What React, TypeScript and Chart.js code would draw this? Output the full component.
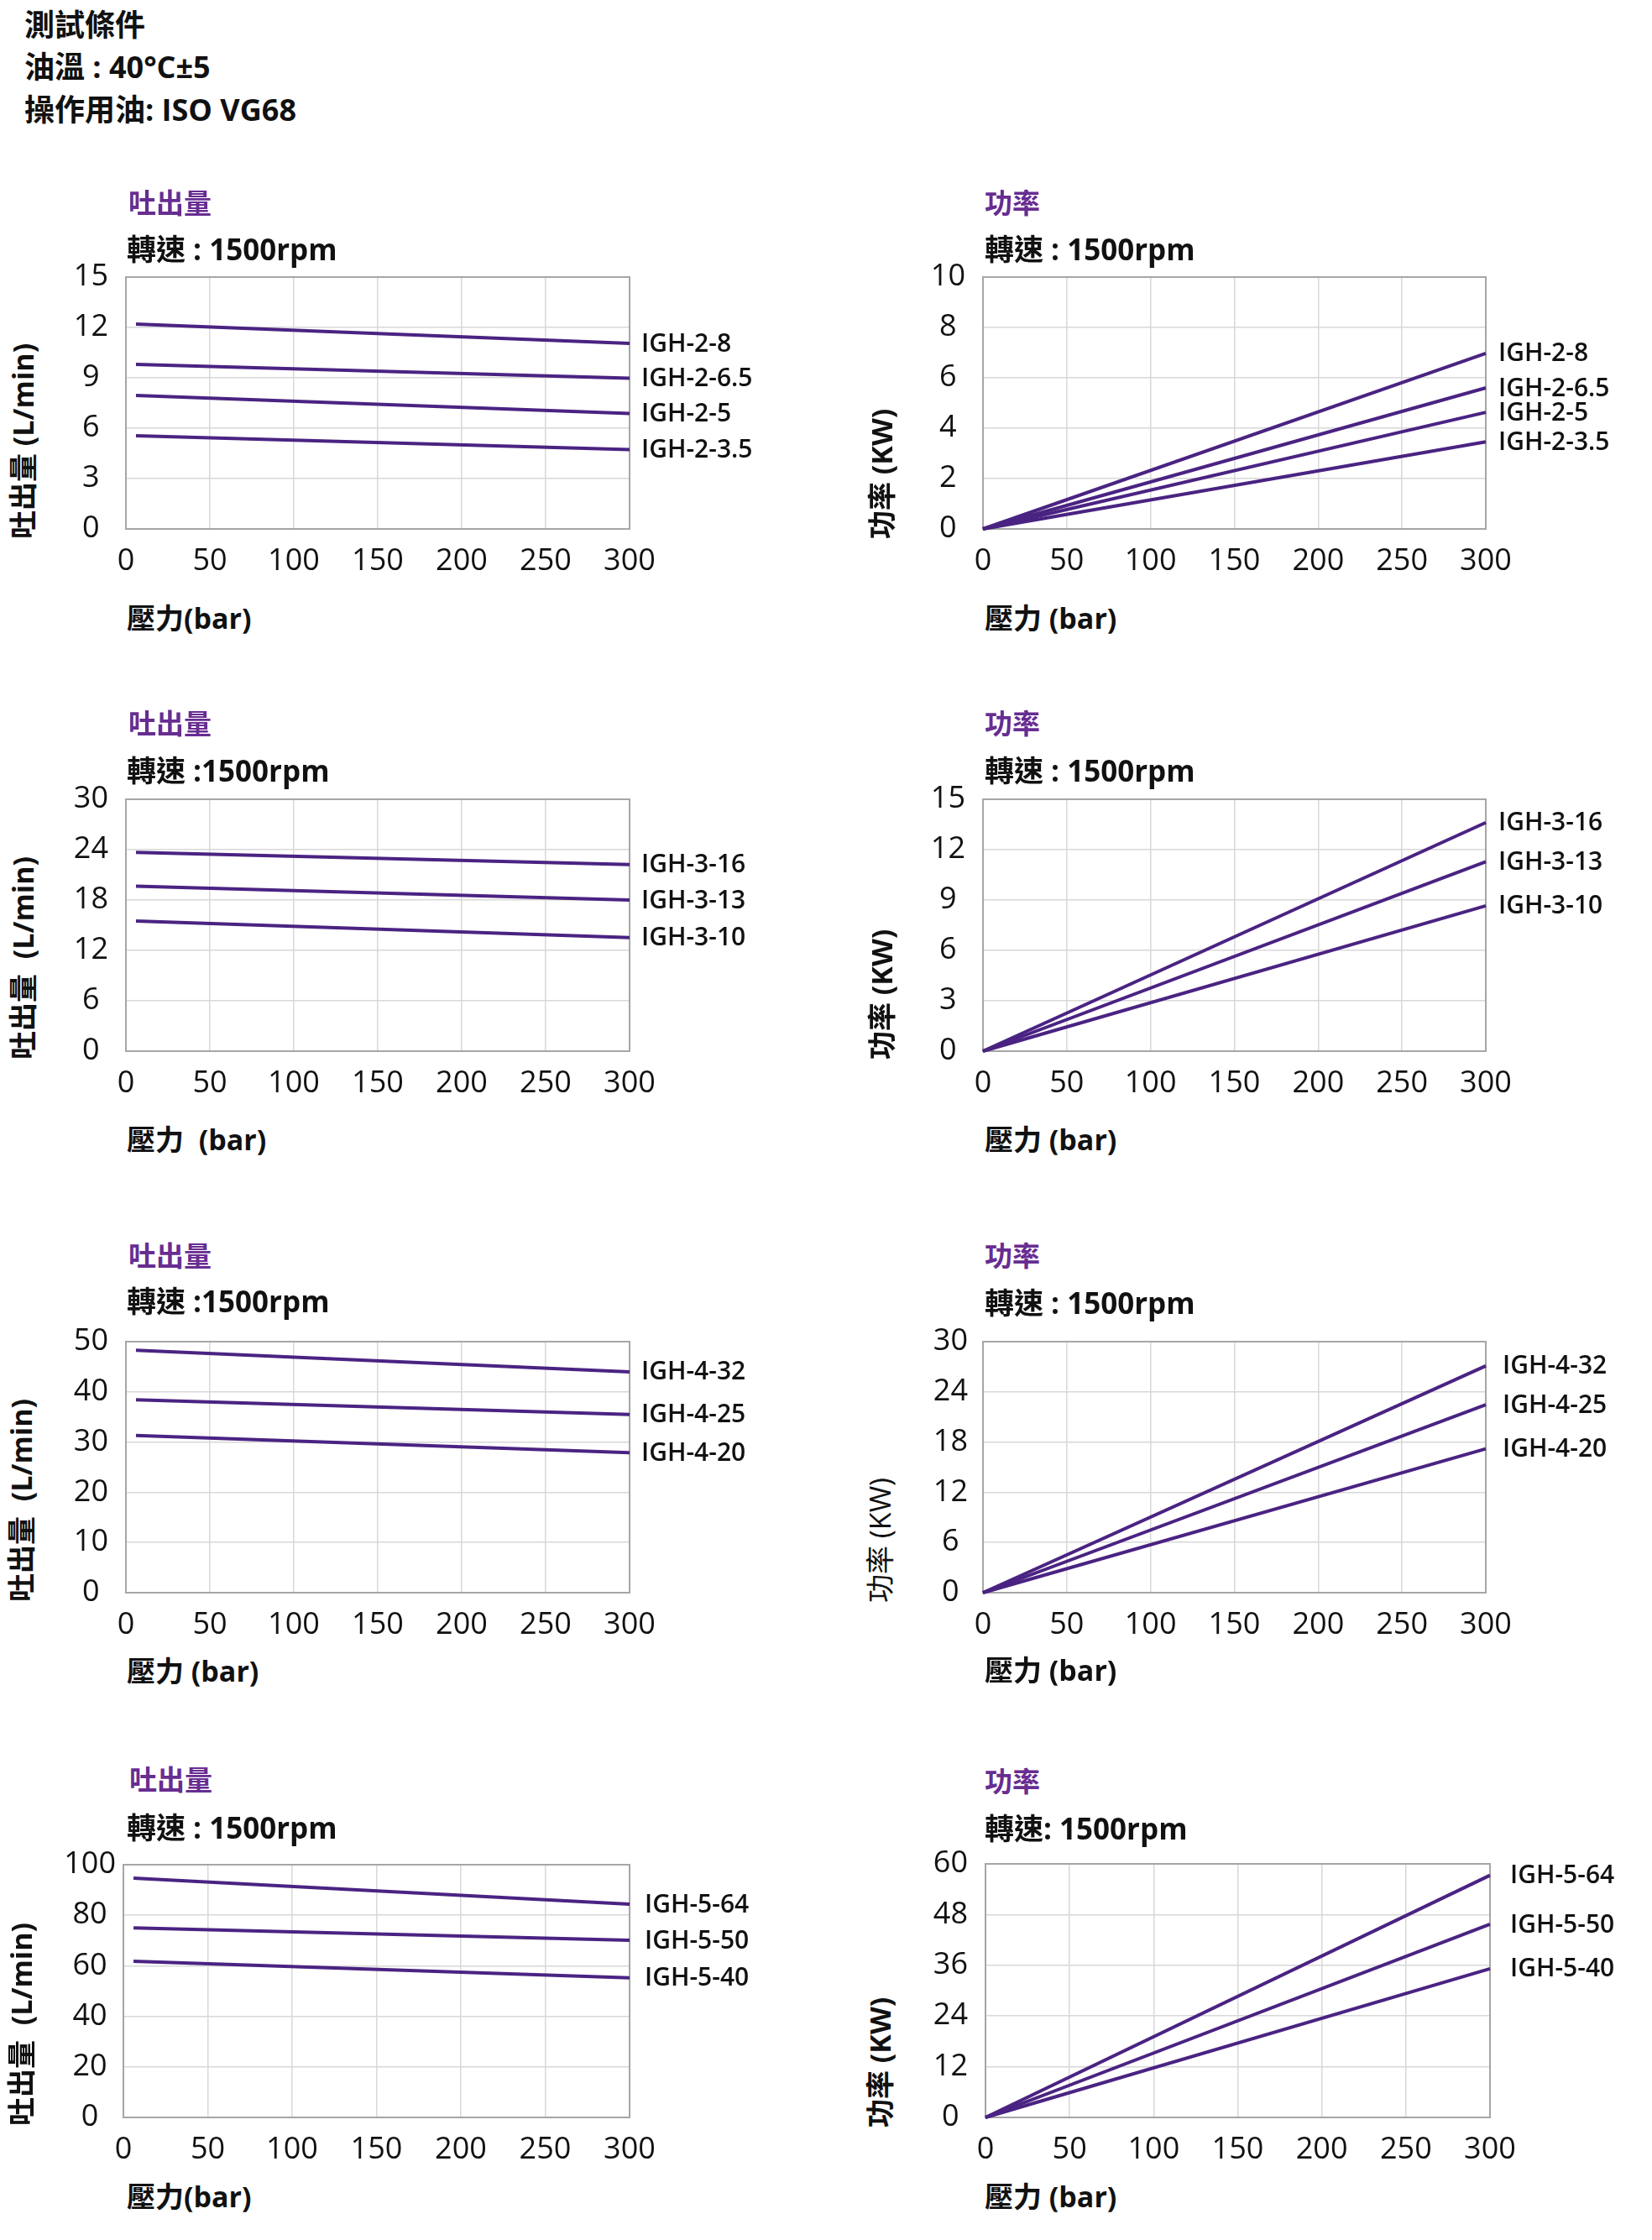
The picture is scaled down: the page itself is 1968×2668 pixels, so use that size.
import React, { useEffect, useRef } from "react";
import { Chart, registerables } from "chart.js";

Chart.register(...registerables);

// ---------------- DATA ----------------
const X_TICKS = [0, 50, 100, 150, 200, 250, 300];
const FLOW_PRESSURE = [6, 300];
const POWER_PRESSURE = [0, 300];
const POWER_AT_ZERO = 0;

const IGH2_NAMES = ["IGH-2-8", "IGH-2-6.5", "IGH-2-5", "IGH-2-3.5"];
const IGH2_FLOW_START = [12.2, 9.8, 7.95, 5.55];
const IGH2_FLOW_END = [11.05, 8.98, 6.88, 4.73];
const IGH2_POWER_END = [6.97, 5.6, 4.63, 3.46];
const IGH2_FLOW_Y_TICKS = [0, 3, 6, 9, 12, 15];
const IGH2_POWER_Y_TICKS = [0, 2, 4, 6, 8, 10];

const IGH3_NAMES = ["IGH-3-16", "IGH-3-13", "IGH-3-10"];
const IGH3_FLOW_START = [23.67, 19.64, 15.5];
const IGH3_FLOW_END = [22.23, 18.0, 13.53];
const IGH3_POWER_END = [13.61, 11.28, 8.66];
const IGH3_FLOW_Y_TICKS = [0, 6, 12, 18, 24, 30];
const IGH3_POWER_Y_TICKS = [0, 3, 6, 9, 12, 15];

const IGH4_NAMES = ["IGH-4-32", "IGH-4-25", "IGH-4-20"];
const IGH4_FLOW_START = [48.3, 38.4, 31.3];
const IGH4_FLOW_END = [44.0, 35.5, 27.9];
const IGH4_POWER_END = [27.1, 22.45, 17.2];
const IGH4_FLOW_Y_TICKS = [0, 10, 20, 30, 40, 50];
const IGH4_POWER_Y_TICKS = [0, 6, 12, 18, 24, 30];

const IGH5_NAMES = ["IGH-5-64", "IGH-5-50", "IGH-5-40"];
const IGH5_FLOW_START = [94.7, 75.0, 61.8];
const IGH5_FLOW_END = [84.4, 70.1, 55.2];
const IGH5_POWER_END = [57.3, 45.7, 35.2];
const IGH5_FLOW_Y_TICKS = [0, 20, 40, 60, 80, 100];
const IGH5_POWER_Y_TICKS = [0, 12, 24, 36, 48, 60];

const HEADER_LINES = ["測試條件", "油溫 : 40°C±5", "操作用油: ISO VG68"];

// ---------------- STYLE ----------------
const LINE_COLOR = "#4a2382";
const TITLE_COLOR = "#672d91";
const GRID_COLOR = "#d8d8d8";
const BORDER_COLOR = "#a6a6a6";
const TEXT_COLOR = "#111111";
const FONT_STACK = '"Open Sans", "Noto Sans CJK TC", sans-serif';
const LW = 100; // y-scale box width
const PT = 70; // top padding
const PR = 220; // right padding
const BH = 70; // x-scale box height

const flowSeries = (start: number[], end: number[]) => start.map((s, i) => [s, end[i]]);
const powerSeries = (end: number[]) => end.map((e) => [POWER_AT_ZERO, e]);

type PanelCfg = {
  plot: [number, number, number, number];
  yTicks: number[];
  names: string[];
  xs: number[];
  series: number[][];
  title: string;
  titleX: number;
  titleY: number;
  rpm: string;
  rpmY: number;
  xTitle: string;
  xTitleY: number;
  yTitle: string;
  yTitleX: number;
  yTitleBottom: number;
  yTitleWeight: number;
  tickPad: number;
  labelGap: number;
};

const L = 151;
const R = 1173;

const PANELS: PanelCfg[] = [
  {
    plot: [150, 330, 750, 630], yTicks: IGH2_FLOW_Y_TICKS, names: IGH2_NAMES, xs: FLOW_PRESSURE,
    series: flowSeries(IGH2_FLOW_START, IGH2_FLOW_END),
    title: "吐出量", titleX: L + 2, titleY: 241, rpm: "轉速 : 1500rpm", rpmY: 296,
    xTitle: "壓力(bar)", xTitleY: 736, yTitle: "吐出量 (L/min)", yTitleX: 27, yTitleBottom: 642, yTitleWeight: 700,
    tickPad: 21, labelGap: 14,
  },
  {
    plot: [1171, 330, 1770, 630], yTicks: IGH2_POWER_Y_TICKS, names: IGH2_NAMES, xs: POWER_PRESSURE,
    series: powerSeries(IGH2_POWER_END),
    title: "功率", titleX: R, titleY: 241, rpm: "轉速 : 1500rpm", rpmY: 296,
    xTitle: "壓力 (bar)", xTitleY: 736, yTitle: "功率 (KW)", yTitleX: 1050, yTitleBottom: 642, yTitleWeight: 700,
    tickPad: 21, labelGap: 15,
  },
  {
    plot: [150, 952, 750, 1252], yTicks: IGH3_FLOW_Y_TICKS, names: IGH3_NAMES, xs: FLOW_PRESSURE,
    series: flowSeries(IGH3_FLOW_START, IGH3_FLOW_END),
    title: "吐出量", titleX: L + 2, titleY: 861, rpm: "轉速 :1500rpm", rpmY: 917,
    xTitle: "壓力  (bar)", xTitleY: 1357, yTitle: "吐出量  (L/min)", yTitleX: 27, yTitleBottom: 1262, yTitleWeight: 700,
    tickPad: 21, labelGap: 14,
  },
  {
    plot: [1171, 952, 1770, 1252], yTicks: IGH3_POWER_Y_TICKS, names: IGH3_NAMES, xs: POWER_PRESSURE,
    series: powerSeries(IGH3_POWER_END),
    title: "功率", titleX: R, titleY: 861, rpm: "轉速 : 1500rpm", rpmY: 917,
    xTitle: "壓力 (bar)", xTitleY: 1357, yTitle: "功率 (KW)", yTitleX: 1050, yTitleBottom: 1262, yTitleWeight: 700,
    tickPad: 21, labelGap: 15,
  },
  {
    plot: [150, 1598, 750, 1897], yTicks: IGH4_FLOW_Y_TICKS, names: IGH4_NAMES, xs: FLOW_PRESSURE,
    series: flowSeries(IGH4_FLOW_START, IGH4_FLOW_END),
    title: "吐出量", titleX: L + 2, titleY: 1495, rpm: "轉速 :1500rpm", rpmY: 1549,
    xTitle: "壓力 (bar)", xTitleY: 1990, yTitle: "吐出量  (L/min)", yTitleX: 25, yTitleBottom: 1908, yTitleWeight: 700,
    tickPad: 21, labelGap: 14,
  },
  {
    plot: [1171, 1598, 1770, 1897], yTicks: IGH4_POWER_Y_TICKS, names: IGH4_NAMES, xs: POWER_PRESSURE,
    series: powerSeries(IGH4_POWER_END),
    title: "功率", titleX: R, titleY: 1495, rpm: "轉速 : 1500rpm", rpmY: 1551,
    xTitle: "壓力 (bar)", xTitleY: 1989, yTitle: "功率 (KW)", yTitleX: 1048, yTitleBottom: 1909, yTitleWeight: 400,
    tickPad: 18, labelGap: 20,
  },
  {
    plot: [147, 2221, 750, 2522], yTicks: IGH5_FLOW_Y_TICKS, names: IGH5_NAMES, xs: FLOW_PRESSURE,
    series: flowSeries(IGH5_FLOW_START, IGH5_FLOW_END),
    title: "吐出量", titleX: L + 3, titleY: 2119, rpm: "轉速 : 1500rpm", rpmY: 2176,
    xTitle: "壓力(bar)", xTitleY: 2616, yTitle: "吐出量  (L/min)", yTitleX: 25, yTitleBottom: 2532, yTitleWeight: 700,
    tickPad: 9, labelGap: 18,
  },
  {
    plot: [1174, 2220, 1775, 2522], yTicks: IGH5_POWER_Y_TICKS, names: IGH5_NAMES, xs: POWER_PRESSURE,
    series: powerSeries(IGH5_POWER_END),
    title: "功率", titleX: R, titleY: 2121, rpm: "轉速: 1500rpm", rpmY: 2177,
    xTitle: "壓力 (bar)", xTitleY: 2616, yTitle: "功率 (KW)", yTitleX: 1048, yTitleBottom: 2534, yTitleWeight: 700,
    tickPad: 21, labelGap: 24,
  },
];

const boxAndLabels = {
  id: "boxAndLabels",
  beforeDatasetsDraw(chart: any) {
    const { ctx, chartArea } = chart;
    ctx.save();
    ctx.strokeStyle = BORDER_COLOR;
    ctx.lineWidth = 2;
    ctx.strokeRect(chartArea.left, chartArea.top, chartArea.right - chartArea.left, chartArea.bottom - chartArea.top);
    ctx.restore();
  },
  afterDatasetsDraw(chart: any, _args: any, opts: any) {
    const { ctx } = chart;
    ctx.save();
    ctx.font = `600 30px ${FONT_STACK}`;
    ctx.fillStyle = TEXT_COLOR;
    ctx.textBaseline = "middle";
    ctx.textAlign = "left";
    chart.data.datasets.forEach((ds: any, i: number) => {
      const meta = chart.getDatasetMeta(i);
      const pt = meta.data[meta.data.length - 1];
      ctx.fillText(ds.label, pt.x + (opts.gap || 14), pt.y + 1);
    });
    ctx.restore();
  },
};

function Panel({ p }: { p: PanelCfg }) {
  const ref = useRef<HTMLCanvasElement>(null);
  const [l, t, r, b] = p.plot;
  const w = LW + (r - l) + PR;
  const h = PT + (b - t) + BH;
  useEffect(() => {
    const chart = new Chart(ref.current as HTMLCanvasElement, {
      type: "line",
      data: {
        datasets: p.names.map((name, i) => ({
          label: name,
          data: p.xs.map((x, j) => ({ x, y: p.series[i][j] })),
          borderColor: LINE_COLOR,
          backgroundColor: LINE_COLOR,
          borderWidth: 4,
          pointRadius: 0,
          tension: 0,
          fill: false,
          clip: false as any,
        })),
      },
      options: {
        responsive: false,
        maintainAspectRatio: false,
        animation: false,
        layout: { padding: { top: PT, right: PR, left: 0, bottom: 0 } },
        plugins: {
          legend: { display: false },
          tooltip: { enabled: false },
          title: { display: false },
          boxAndLabels: { gap: p.labelGap },
        } as any,
        scales: {
          x: {
            type: "linear",
            min: X_TICKS[0],
            max: X_TICKS[X_TICKS.length - 1],
            afterBuildTicks: (s: any) => {
              s.ticks = X_TICKS.map((v) => ({ value: v }));
            },
            afterFit: (s: any) => {
              s.height = BH;
            },
            grid: { color: GRID_COLOR, lineWidth: 1.5, drawTicks: false },
            border: { display: false },
            ticks: {
              color: TEXT_COLOR,
              font: { family: FONT_STACK, size: 36 },
              padding: 17,
              maxRotation: 0,
              autoSkip: false,
            },
          },
          y: {
            type: "linear",
            min: p.yTicks[0],
            max: p.yTicks[p.yTicks.length - 1],
            afterBuildTicks: (s: any) => {
              s.ticks = p.yTicks.map((v) => ({ value: v }));
            },
            afterFit: (s: any) => {
              s.width = LW;
            },
            grid: { color: GRID_COLOR, lineWidth: 1.5, drawTicks: false },
            border: { display: false },
            ticks: {
              color: TEXT_COLOR,
              font: { family: FONT_STACK, size: 36 },
              padding: p.tickPad,
              crossAlign: "center",
              autoSkip: false,
            },
          },
        },
      },
      plugins: [boxAndLabels as any],
    });
    return () => chart.destroy();
  }, []);
  return (
    <canvas
      ref={ref}
      width={w}
      height={h}
      style={{ position: "absolute", left: l - LW, top: t - PT, width: w, height: h }}
    />
  );
}

const textStyle = (x: number, y: number, extra: any = {}) => ({
  position: "absolute" as const,
  left: x,
  top: y,
  transform: "translateY(-50%)",
  whiteSpace: "pre" as const,
  lineHeight: 1,
  fontFamily: FONT_STACK,
  fontWeight: 700,
  fontSize: 34,
  color: TEXT_COLOR,
  ...extra,
});

export default function App() {
  return (
    <div
      style={{
        position: "absolute",
        left: 0,
        top: 0,
        width: 1968,
        height: 2668,
        background: "#ffffff",
        overflow: "hidden",
      }}
    >
      {PANELS.map((p, i) => {
        const left = p.titleX < 1000 ? L : R;
        return (
          <React.Fragment key={i}>
            <Panel p={p} />
            <div style={textStyle(p.titleX, p.titleY, { color: TITLE_COLOR, fontSize: 33 })}>{p.title}</div>
            <div style={textStyle(left, p.rpmY, { fontSize: 35 })}>{p.rpm}</div>
            <div style={textStyle(left, p.xTitleY)}>{p.xTitle}</div>
            <div
              style={{
                position: "absolute",
                left: p.yTitleX,
                top: p.yTitleBottom,
                transformOrigin: "0 0",
                transform: "rotate(-90deg) translateY(-50%)",
                whiteSpace: "pre",
                lineHeight: 1,
                fontFamily: FONT_STACK,
                fontWeight: p.yTitleWeight,
                fontSize: 34,
                color: TEXT_COLOR,
              }}
            >
              {p.yTitle}
            </div>
          </React.Fragment>
        );
      })}
      {HEADER_LINES.map((line, i) => (
        <div key={"h" + i} style={textStyle(29, [30, 80, 131][i], { fontSize: 36 })}>
          {line}
        </div>
      ))}
    </div>
  );
}
